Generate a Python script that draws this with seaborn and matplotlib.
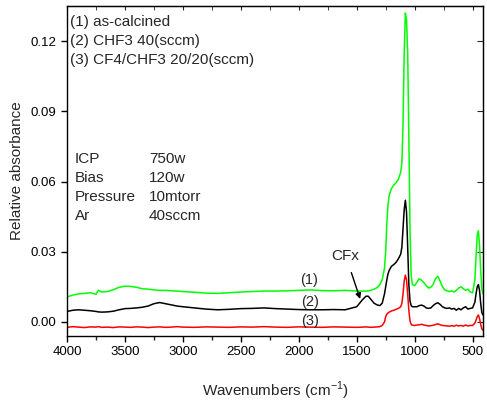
import numpy as np
import pandas as pd
import matplotlib
matplotlib.use("Agg")
import matplotlib.pyplot as plt
import seaborn as sns

# ---------------- data ----------------
wavenumber = [4000, 3950, 3900, 3850, 3800, 3750, 3730, 3700, 3650, 3600,
              3550, 3500, 3450, 3400, 3350, 3300, 3250, 3200, 3150, 3100,
              3050, 3000, 2900, 2800, 2700, 2600, 2500, 2400, 2300, 2200,
              2100, 2000, 1900, 1800, 1700, 1600, 1500, 1450, 1420, 1400,
              1380, 1350, 1320, 1300, 1280, 1260, 1250, 1240, 1230, 1220,
              1200, 1180, 1160, 1140, 1120, 1110, 1100, 1090, 1080, 1070,
              1060, 1050, 1040, 1030, 1020, 1000, 980, 960, 940, 920,
              900, 880, 860, 840, 820, 800, 780, 760, 740, 720,
              700, 680, 660, 640, 620, 600, 580, 560, 540, 520,
              500, 480, 470, 460, 450, 440, 430, 420, 410]

as_calcined = [0.0107, 0.0115, 0.0120, 0.0122, 0.0125, 0.0118, 0.0135, 0.0128, 0.0130, 0.0138,
               0.0148, 0.0153, 0.0152, 0.0148, 0.0142, 0.0140, 0.0137, 0.0135, 0.0135, 0.0133,
               0.0132, 0.0130, 0.0127, 0.0123, 0.0122, 0.0125, 0.0128, 0.0130, 0.0132, 0.0132,
               0.0133, 0.0135, 0.0137, 0.0134, 0.0133, 0.0135, 0.0132, 0.0132, 0.0132, 0.0133,
               0.0135, 0.0140, 0.0148, 0.0160, 0.0180, 0.0230, 0.0300, 0.0420, 0.0500, 0.0540,
               0.0570, 0.0585, 0.0595, 0.0610, 0.0640, 0.0680, 0.0850, 0.1150, 0.1320, 0.1290,
               0.1150, 0.0800, 0.0400, 0.0200, 0.0160, 0.0155, 0.0170, 0.0185, 0.0178, 0.0168,
               0.0155, 0.0145, 0.0148, 0.0160, 0.0185, 0.0195, 0.0175, 0.0150, 0.0137, 0.0133,
               0.0130, 0.0133, 0.0128, 0.0135, 0.0145, 0.0150, 0.0142, 0.0135, 0.0140, 0.0128,
               0.0125, 0.0180, 0.0280, 0.0370, 0.0390, 0.0330, 0.0220, 0.0140, 0.0120]

chf3_40 = [0.0045, 0.0050, 0.0052, 0.0050, 0.0048, 0.0045, 0.0043, 0.0042, 0.0043, 0.0046,
           0.0052, 0.0057, 0.0058, 0.0060, 0.0063, 0.0068, 0.0078, 0.0083, 0.0078, 0.0073,
           0.0068, 0.0065, 0.0060, 0.0055, 0.0052, 0.0054, 0.0057, 0.0058, 0.0060, 0.0057,
           0.0055, 0.0053, 0.0052, 0.0052, 0.0053, 0.0052, 0.0065, 0.0095, 0.0110, 0.0110,
           0.0098, 0.0080, 0.0072, 0.0070, 0.0080, 0.0120, 0.0150, 0.0180, 0.0205, 0.0220,
           0.0238, 0.0245, 0.0255, 0.0270, 0.0290, 0.0320, 0.0400, 0.0480, 0.0520, 0.0470,
           0.0320, 0.0160, 0.0090, 0.0070, 0.0065, 0.0065, 0.0065, 0.0070, 0.0072, 0.0068,
           0.0060, 0.0058, 0.0060, 0.0070, 0.0078, 0.0082, 0.0075, 0.0065, 0.0060, 0.0058,
           0.0060, 0.0055, 0.0058, 0.0050, 0.0058, 0.0052, 0.0060, 0.0065, 0.0055, 0.0058,
           0.0060, 0.0085, 0.0120, 0.0150, 0.0160, 0.0135, 0.0080, 0.0040, 0.0030]

cf4_chf3 = [-0.0023, -0.0020, -0.0022, -0.0024, -0.0021, -0.0022, -0.0020, -0.0023, -0.0022, -0.0024,
            -0.0021, -0.0022, -0.0023, -0.0021, -0.0022, -0.0024, -0.0022, -0.0021, -0.0023, -0.0022,
            -0.0020, -0.0022, -0.0023, -0.0021, -0.0022, -0.0023, -0.0021, -0.0022, -0.0020, -0.0022,
            -0.0023, -0.0021, -0.0022, -0.0023, -0.0021, -0.0022, -0.0023, -0.0022, -0.0021, -0.0022,
            -0.0023, -0.0022, -0.0021, -0.0020, -0.0015, 0.0000, 0.0022, 0.0033, 0.0038, 0.0042,
            0.0047, 0.0050, 0.0054, 0.0058, 0.0065, 0.0080, 0.0120, 0.0175, 0.0200, 0.0180,
            0.0120, 0.0050, 0.0005, -0.0010, -0.0014, -0.0015, -0.0013, -0.0012, -0.0010, -0.0013,
            -0.0015, -0.0017, -0.0016, -0.0014, -0.0011, -0.0008, -0.0012, -0.0015, -0.0016, -0.0017,
            -0.0018, -0.0016, -0.0018, -0.0014, -0.0017, -0.0015, -0.0018, -0.0013, -0.0017, -0.0015,
            -0.0015, -0.0005, 0.0008, 0.0022, 0.0030, 0.0015, -0.0010, -0.0030, -0.0035]

series_names = ["(1)", "(2)", "(3)"]
series_colors = ["#00ff00", "#000000", "#ff0000"]

x_ticks = [4000, 3500, 3000, 2500, 2000, 1500, 1000, 500]
y_ticks = [0.00, 0.03, 0.06, 0.09, 0.12]

legend_lines = ["(1) as-calcined", "(2) CHF3 40(sccm)", "(3) CF4/CHF3 20/20(sccm)"]
cond_names = ["ICP", "Bias", "Pressure", "Ar"]
cond_values = ["750w", "120w", "10mtorr", "40sccm"]

# ---------------- figure ----------------
sns.set_style("ticks")
plt.rcParams["font.family"] = ["Liberation Sans", "DejaVu Sans"]
plt.rcParams["mathtext.fontset"] = "custom"
plt.rcParams["mathtext.rm"] = "Liberation Sans"

df = pd.concat([
    pd.DataFrame({"wavenumber": wavenumber, "absorbance": vals, "series": name})
    for name, vals in zip(series_names, [as_calcined, chf3_40, cf4_chf3])
], ignore_index=True)

fig = plt.figure(figsize=(4.87, 4.03), dpi=100)
L, R, T, B = 67, 483, 6, 336
ax = fig.add_axes([L / 487, 1 - B / 403, (R - L) / 487, (B - T) / 403])

sns.lineplot(data=df, x="wavenumber", y="absorbance", hue="series",
             palette=dict(zip(series_names, series_colors)),
             estimator=None, sort=False, legend=False, linewidth=1.1, ax=ax)

ax.set_xlim(4000, 410)
ax.set_ylim(-0.006, 0.135)
ax.set_xticks(x_ticks)
ax.set_xticks(np.arange(3750, 400, -500), minor=True)
ax.set_yticks(y_ticks)
ax.set_yticklabels([f"{v:.2f}" for v in y_ticks])
ax.tick_params(axis="both", which="major", direction="out", length=4, width=1,
               labelsize=9.5, colors="black")
ax.tick_params(axis="x", which="minor", direction="out", length=3, width=1)
for s in ax.spines.values():
    s.set_linewidth(1.0)
    s.set_color("black")

top = ax.secondary_xaxis("top")
top.set_xticks(x_ticks)
top.set_xticks(np.arange(3750, 400, -500), minor=True)
top.tick_params(which="both", direction="in", length=3, labeltop=False)
right = ax.secondary_yaxis("right")
right.set_yticks(y_ticks)
right.tick_params(direction="in", length=4, labelright=False)

ax.set_xlabel("Wavenumbers (cm$^{-1}$)", fontsize=11, labelpad=15)
ax.set_ylabel("Relative absorbance", fontsize=11, labelpad=5)

for i, t in enumerate(legend_lines):
    ax.text(0.007, 0.952 - i * 0.058, t, transform=ax.transAxes,
            fontsize=11, ha="left", va="center")
for i, (n, v) in enumerate(zip(cond_names, cond_values)):
    y = 0.536 - i * 0.057
    ax.text(0.019, y, n, transform=ax.transAxes, fontsize=11, ha="left", va="center")
    ax.text(0.197, y, v, transform=ax.transAxes, fontsize=11, ha="left", va="center")

ax.text(1915, 0.018, "(1)", fontsize=10.5, ha="center", va="center")
ax.text(1905, 0.0087, "(2)", fontsize=10.5, ha="center", va="center")
ax.text(1905, 0.0006, "(3)", fontsize=10.5, ha="center", va="center")
ax.annotate("CFx", xy=(1470, 0.0098), xytext=(1595, 0.0283), fontsize=11,
            ha="center", va="center",
            arrowprops=dict(arrowstyle="-|>", color="black", lw=1.0,
                            shrinkA=5, shrinkB=0, mutation_scale=8))

fig.savefig("out.png", dpi=100)
